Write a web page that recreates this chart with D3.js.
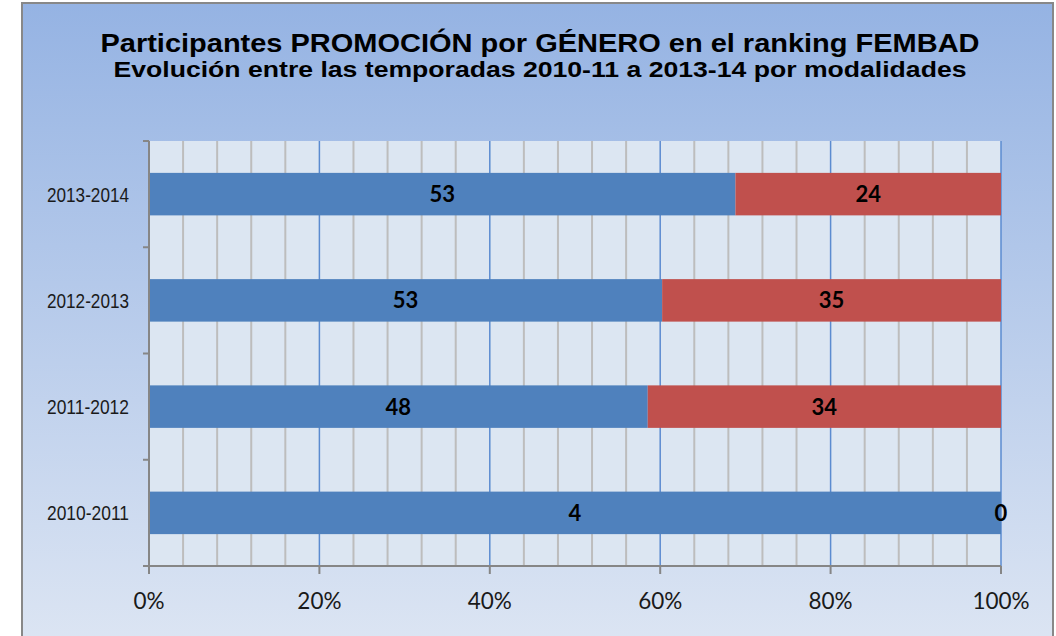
<!DOCTYPE html>
<html><head><meta charset="utf-8">
<script src="https://cdn.jsdelivr.net/npm/d3@7/dist/d3.min.js"></script>
<style>
html,body{margin:0;padding:0;background:#fff;}
svg{display:block;}
</style></head>
<body>
<svg id="chart" width="1056" height="636"></svg>
<script>
const titleLines = ["Participantes PROMOCIÓN por GÉNERO en el ranking FEMBAD",
                    "Evolución entre las temporadas 2010-11 a 2013-14 por modalidades"];
const categories = ["2013-2014", "2012-2013", "2011-2012", "2010-2011"];
const seriesA = [53, 53, 48, 4];   // blue
const seriesB = [24, 35, 34, 0];   // red
const tickValues = [0, 0.2, 0.4, 0.6, 0.8, 1.0];
const colors = ["#4f81bd", "#c0504d"];

(function(){
const svg = d3.select("#chart");
const defs = svg.append("defs");
const grad = defs.append("linearGradient").attr("id","bg").attr("x1",0).attr("y1",0).attr("x2",0).attr("y2",1);
grad.append("stop").attr("offset","0%").attr("stop-color","#95b3e3");
grad.append("stop").attr("offset","100%").attr("stop-color","#dce5f3");

// outer frame
svg.append("rect").attr("x",22).attr("y",3).attr("width",1031).attr("height",640)
  .attr("fill","url(#bg)").attr("stroke","#888888").attr("stroke-width",2);

// title
const tg = svg.append("g").attr("font-family","Liberation Sans, Arial, sans-serif").attr("font-weight","bold").attr("fill","#000").attr("text-anchor","middle");
tg.append("text").attr("x",540).attr("y",52).attr("font-size",26.5)
  .attr("textLength",879).attr("lengthAdjust","spacingAndGlyphs").text(titleLines[0]);
tg.append("text").attr("x",540).attr("y",77).attr("font-size",22.5)
  .attr("textLength",853).attr("lengthAdjust","spacingAndGlyphs").text(titleLines[1]);

const pL = 149, pR = 1001, pT = 141, pB = 566;
const x = d3.scaleLinear().domain([0,1]).range([pL,pR]);
const y = d3.scaleBand().domain(categories).range([pT,pB]).paddingInner(0.6).paddingOuter(0.3);
const yb = d3.scaleBand().domain(categories).range([pT,pB]);

// plot area
svg.append("rect").attr("x",pL).attr("y",pT).attr("width",pR-pL).attr("height",pB-pT).attr("fill","#dce6f2");

// minor gridlines
const minor = d3.range(1,25).map(i=>i*0.04).filter(v=>Math.abs(v*5-Math.round(v*5))>1e-6);
svg.append("g").selectAll("line").data(minor).join("line")
  .attr("x1",d=>x(d)).attr("x2",d=>x(d)).attr("y1",pT).attr("y2",pB)
  .attr("stroke","#bdbdbd").attr("stroke-width",2);
// major gridlines
svg.append("g").selectAll("line").data(tickValues.slice(1)).join("line")
  .attr("x1",d=>x(d)).attr("x2",d=>x(d)).attr("y1",pT).attr("y2",pB)
  .attr("stroke","#5b8bd0").attr("stroke-width",1.5);

// bars
const rows = categories.map((c,i)=>{
  const tot = seriesA[i]+seriesB[i];
  return {cat:c, segs:[
    {v:seriesA[i], x0:0, x1:seriesA[i]/tot, c:colors[0]},
    {v:seriesB[i], x0:seriesA[i]/tot, x1:1, c:colors[1]}
  ]};
});
const bg = svg.append("g");
rows.forEach(r=>{
  r.segs.forEach(s=>{
    bg.append("rect").attr("x",x(s.x0)).attr("y",y(r.cat)).attr("width",x(s.x1)-x(s.x0)).attr("height",y.bandwidth())
      .attr("fill",s.c);
  });
});
// labels
rows.forEach(r=>{
  r.segs.forEach(s=>{
    bg.append("text").attr("x",(x(s.x0)+x(s.x1))/2).attr("y",y(r.cat)+y.bandwidth()/2+8)
      .attr("text-anchor","middle").attr("font-family","Lato, sans-serif").attr("font-weight","bold")
      .attr("font-size",22).attr("fill","#000").text(s.v);
  });
});

// axes
const ax = svg.append("g").attr("stroke","#868686").attr("stroke-width",2);
ax.append("line").attr("x1",pL).attr("x2",pL).attr("y1",pT).attr("y2",pB+8);
ax.append("line").attr("x1",pL-6).attr("x2",pR).attr("y1",pB).attr("y2",pB);
const bounds = categories.map(c=>yb(c)).concat([pB]);
ax.selectAll("line.yt").data(bounds).join("line").attr("class","yt")
  .attr("x1",pL-6).attr("x2",pL).attr("y1",d=>d).attr("y2",d=>d);
ax.selectAll("line.xt").data(tickValues).join("line").attr("class","xt")
  .attr("x1",d=>x(d)).attr("x2",d=>x(d)).attr("y1",pB).attr("y2",pB+8);

// category labels
svg.append("g").selectAll("text").data(categories).join("text")
  .attr("x",129).attr("y",d=>y(d)+y.bandwidth()/2+7.5).attr("text-anchor","end")
  .attr("font-family","Liberation Sans, Arial, sans-serif").attr("font-size",21)
  .attr("textLength",82).attr("lengthAdjust","spacingAndGlyphs")
  .attr("fill","#1a1a1a").text(d=>d);

// x tick labels
svg.append("g").selectAll("text").data(tickValues).join("text")
  .attr("x",d=>x(d)).attr("y",609).attr("text-anchor","middle")
  .attr("font-family","Lato, sans-serif").attr("font-size",22.5).attr("fill","#1a1a1a")
  .text(d=>d3.format(".0%")(d));
})();
</script>
</body></html>
